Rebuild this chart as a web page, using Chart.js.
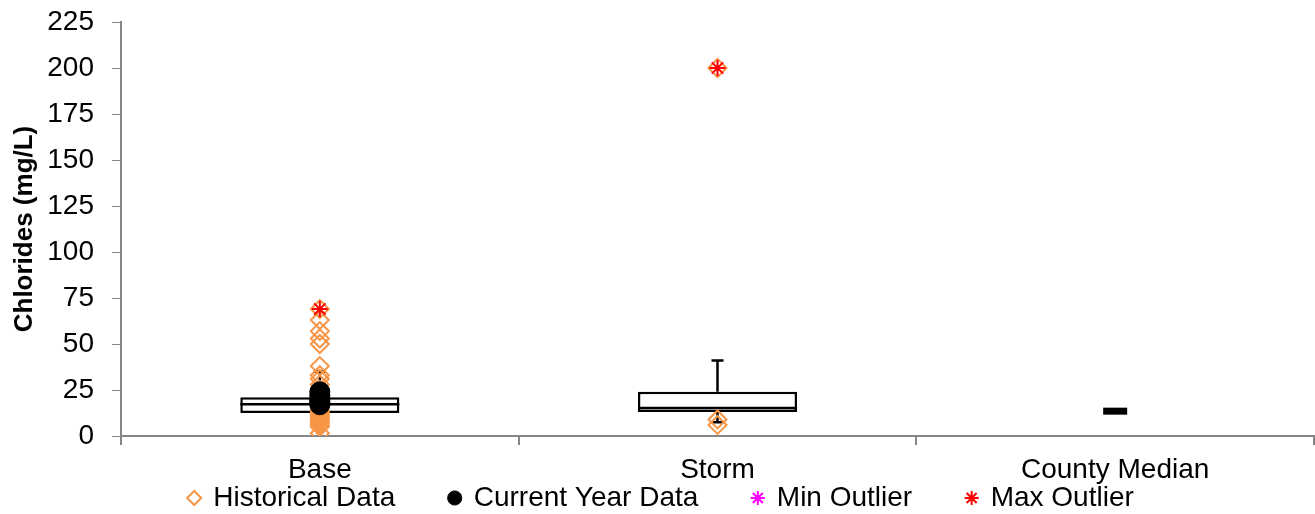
<!DOCTYPE html>
<html>
<head>
<meta charset="utf-8">
<script src="https://cdn.jsdelivr.net/npm/chart.js@4"></script>
<style>
  html, body { margin: 0; padding: 0; background: #fff; }
  #wrap { width: 1315px; height: 514px; }
</style>
</head>
<body>
<div id="wrap"><canvas id="boxChart"></canvas></div>
<script>
// categories and y ticks
const categories = ['Base', 'Storm', 'County Median'];
const yMin = 0, yMax = 225, yStep = 25;

// box statistics per category (null = not shown)
const q1 = [12.5, 13, null];
const median = [17.2, 15.2, 13.5];
const q3 = [21, 24, null];
const whiskerLow = [7, 7.5, null];
const whiskerHigh = [35, 41, null];

// individual samples
const historicalBase = [69, 63, 57, 53, 50, 38, 33, 31, 28, 25, 22, 20, 18, 16, 14, 13, 12, 11, 10, 9, 8, 7, 6, 5, 1.5];
const historicalStorm = [200, 9, 6];
const currentBase = [24, 22, 20, 19, 18, 17];
const minOutliers = [];
const maxOutliers = [['Base', 69], ['Storm', 200]];

const legendNames = ['Historical Data', 'Current Year Data', 'Min Outlier', 'Max Outlier'];
const axisGray = '#868686';
const orange = '#F79646';
const font = 'Liberation Sans, Arial, sans-serif';

function pts(cat, vals) { return vals.map(v => ({ x: cat, y: v })); }

// whiskers and median lines, drawn with the chart's own scales
const boxExtras = {
    id: 'boxExtras',
    afterDatasetDraw(chart, args) {
        if (args.index !== 0) return;
        const ctx = chart.ctx, ys = chart.scales.y;
        const bars = chart.getDatasetMeta(0).data;
        ctx.save();
        ctx.strokeStyle = '#000';
        ctx.lineWidth = 2.5;
        categories.forEach((c, i) => {
            if (q1[i] == null) return;
            const bar = bars[i];
            const x = bar.x, half = bar.width / 2;
            const ym = ys.getPixelForValue(median[i]);
            ctx.beginPath();
            ctx.moveTo(x - half, ym); ctx.lineTo(x + half, ym);
            ctx.stroke();
            [[q3[i], whiskerHigh[i]], [q1[i], whiskerLow[i]]].forEach(([from, to]) => {
                const y0 = ys.getPixelForValue(from), y1 = ys.getPixelForValue(to);
                ctx.beginPath();
                ctx.moveTo(x, y0); ctx.lineTo(x, y1);
                ctx.moveTo(x - 6, y1); ctx.lineTo(x + 6, y1);
                ctx.stroke();
            });
        });
        ctx.restore();
    }
};

new Chart(document.getElementById('boxChart'), {
    data: {
        labels: categories,
        datasets: [
            {
                type: 'bar', label: 'box',
                data: categories.map((c, i) => q1[i] == null ? null : [q1[i], q3[i]]),
                backgroundColor: '#fff', borderColor: '#000', borderWidth: 2.5,
                borderSkipped: false, barPercentage: 0.4, categoryPercentage: 1, order: 10
            },
            {
                type: 'line', label: 'county-median', showLine: false,
                data: categories.map((c, i) => (q1[i] == null ? median[i] : null)),
                pointStyle: 'line', pointRadius: 12, pointBorderWidth: 7,
                pointBorderColor: '#000', order: 5
            },
            {
                type: 'line', label: 'Historical Data', showLine: false,
                data: pts('Base', historicalBase).concat(pts('Storm', historicalStorm)),
                pointStyle: 'rectRot', pointRadius: 9, pointBorderWidth: 2,
                pointBorderColor: orange, pointBackgroundColor: 'rgba(255,255,255,0)',
                borderColor: orange, backgroundColor: 'rgba(255,255,255,0)', order: 3
            },
            {
                type: 'line', label: 'Current Year Data', showLine: false,
                data: pts('Base', currentBase),
                pointStyle: 'circle', pointRadius: 10,
                pointBorderColor: '#000', pointBackgroundColor: '#000',
                borderColor: '#000', backgroundColor: '#000', order: 2
            },
            {
                type: 'line', label: 'Min Outlier', showLine: false,
                data: minOutliers.map(([c, v]) => ({ x: c, y: v })),
                pointStyle: 'star', pointRadius: 8, pointBorderWidth: 2,
                pointBorderColor: '#FF00FF', borderColor: '#FF00FF', backgroundColor: '#FF00FF', order: 1
            },
            {
                type: 'line', label: 'Max Outlier', showLine: false,
                data: maxOutliers.map(([c, v]) => ({ x: c, y: v })),
                pointStyle: 'star', pointRadius: 8, pointBorderWidth: 2,
                pointBorderColor: '#FF0000', borderColor: '#FF0000', backgroundColor: '#FF0000', order: 0
            }
        ]
    },
    options: {
        responsive: true,
        maintainAspectRatio: false,
        animation: false,
        layout: { autoPadding: false, padding: { top: 0, right: 1, left: 9, bottom: -8 } },
        plugins: {
            tooltip: { enabled: false },
            legend: {
                display: true,
                position: 'bottom',
                labels: {
                    usePointStyle: true,
                    boxWidth: 10,
                    boxHeight: 10,
                    padding: 0,
                    color: '#000',
                    font: { family: font, size: 28 },
                    generateLabels: chart => {
                        const items = Chart.defaults.plugins.legend.labels.generateLabels(chart)
                            .filter(it => legendNames.includes(it.text))
                            .sort((a, b) => a.datasetIndex - b.datasetIndex);
                        // extra spacing between legend entries
                        return items.map((it, k) => Object.assign(it, {
                            text: k < items.length - 1 ? it.text + '\u00a0\u00a0\u00a0\u00a0\u00a0\u00a0\u00a0' : it.text
                        }));
                    }
                }
            }
        },
        scales: {
            x: {
                type: 'category',
                offset: true,
                afterFit: scale => {
                    scale.height = 48;
                    scale.paddingLeft = 0;
                    scale.paddingRight = 0;
                },
                grid: { offset: true, drawOnChartArea: false, color: axisGray, lineWidth: 2, tickLength: 9 },
                border: { color: axisGray, width: 2 },
                ticks: { color: '#000', padding: 11, font: { family: font, size: 28, lineHeight: 1 } }
            },
            y: {
                min: yMin,
                max: yMax,
                afterFit: scale => {
                    scale.width = 112;
                    scale.paddingTop = 22;
                    scale.paddingBottom = 0;
                },
                grid: { drawOnChartArea: false, color: axisGray, lineWidth: 1, tickLength: 9 },
                border: { color: axisGray, width: 2 },
                ticks: { stepSize: yStep, color: '#000', padding: 18, font: { family: font, size: 28 } },
                title: {
                    display: true,
                    text: 'Chlorides (mg/L)',
                    color: '#000',
                    padding: { top: 0, bottom: 0 },
                    font: { family: font, size: 26, weight: 'bold' }
                }
            }
        }
    },
    plugins: [boxExtras]
});
</script>
</body>
</html>
